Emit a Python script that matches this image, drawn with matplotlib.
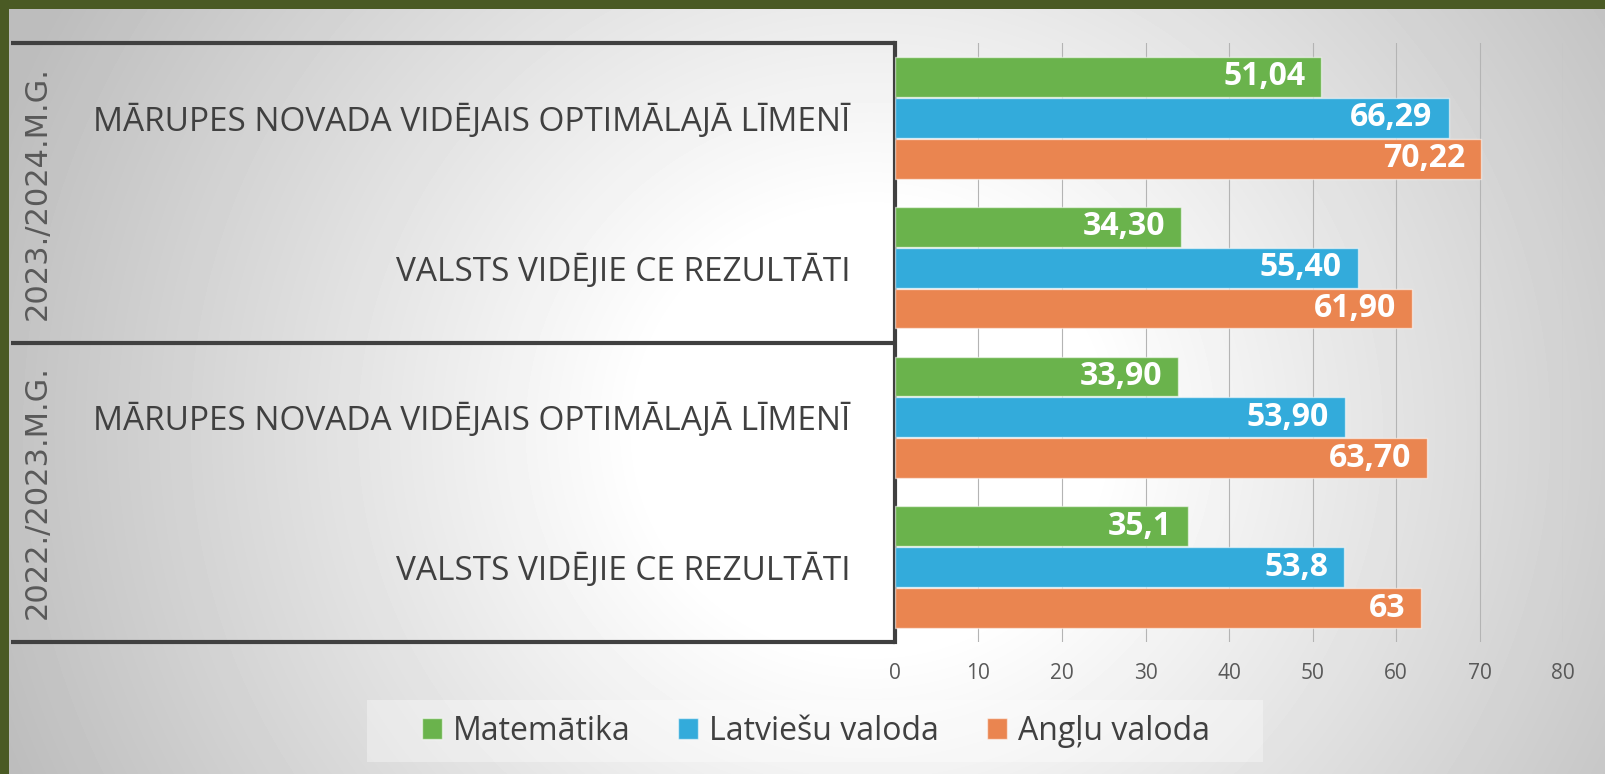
import numpy as np
import matplotlib
matplotlib.use("Agg")
import matplotlib.pyplot as plt
from matplotlib.patches import Rectangle

plt.rcParams['font.family'] = ['Open Sans', 'DejaVu Sans']

# ---------------- data ----------------
categories = [
    "MĀRUPES NOVADA VIDĒJAIS OPTIMĀLAJĀ LĪMENĪ",
    "VALSTS VIDĒJIE CE REZULTĀTI",
    "MĀRUPES NOVADA VIDĒJAIS OPTIMĀLAJĀ LĪMENĪ",
    "VALSTS VIDĒJIE CE REZULTĀTI",
]
years = ["2023./2024.M.G.", "2022./2023.M.G."]
series_names = ["Matemātika", "Latviešu valoda", "Angļu valoda"]
matematika = [51.04, 34.30, 33.90, 35.1]
latviesu = [66.29, 55.40, 53.90, 53.8]
anglu = [70.22, 61.90, 63.70, 63]
labels_matematika = ["51,04", "34,30", "33,90", "35,1"]
labels_latviesu = ["66,29", "55,40", "53,90", "53,8"]
labels_anglu = ["70,22", "61,90", "63,70", "63"]
x_ticks = [0, 10, 20, 30, 40, 50, 60, 70, 80]

colors = ["#6AB34C", "#33ABDB", "#EA8550"]

W, H = 1605, 774
fig = plt.figure(figsize=(W / 100, H / 100), dpi=100)

# ---------------- background ----------------
bg = fig.add_axes([0, 0, 1, 1], zorder=-10)
yy, xx = np.mgrid[0:H, 0:W]
d = np.sqrt(((xx - 870) / 820.0) ** 2 + ((yy - 430) / 780.0) ** 2)
val = 1.0 - 0.26 * np.clip((d - 0.28) / 0.85, 0, 1)
bg.imshow(val, cmap="gray", vmin=0, vmax=1, extent=[0, W, H, 0], aspect="auto",
          interpolation="bilinear")
bg.set_xlim(0, W)
bg.set_ylim(H, 0)
bg.axis("off")
bg.add_patch(Rectangle((0, 0), W, 9, facecolor="#4A5A24", edgecolor="none"))
bg.add_patch(Rectangle((0, 0), 9, H, facecolor="#4A5A24", edgecolor="none"))

# legend background
fig.patches.append(Rectangle((367 / W, 1 - 762 / H), 896 / W, 62 / H,
                             transform=fig.transFigure, facecolor="white",
                             alpha=0.35, edgecolor="none", zorder=-5))

# ---------------- main axes ----------------
ax = fig.add_axes([895 / W, 1 - 642 / H, 668 / W, 599 / H])
ax.patch.set_alpha(0)

y = np.arange(len(categories))
offsets = [-0.273, 0.0, 0.273]
bar_h = 0.266
all_vals = [matematika, latviesu, anglu]
all_labels = [labels_matematika, labels_latviesu, labels_anglu]
handles = []
for vals, labs, off, c, name in zip(all_vals, all_labels, offsets, colors, series_names):
    bars = ax.barh(y + off, vals, height=bar_h, color=c,
                   edgecolor=(1, 1, 1, 0.55), linewidth=1.0, zorder=3, label=name)
    handles.append(bars)
    for v, yi, lab in zip(vals, y + off, labs):
        ax.annotate(lab, xy=(v, yi), xytext=(-16, 0), textcoords="offset pixels",
                    ha="right", va="center", color="white", fontsize=23,
                    fontweight="bold", zorder=4)

ax.set_xlim(0, 80)
ax.set_ylim(3.5, -0.5)
ax.set_xticks(x_ticks)
ax.set_xticklabels([str(t) for t in x_ticks])
ax.tick_params(axis="x", length=0, pad=15, labelsize=15, labelcolor="#595959")
ax.set_yticks(y)
ax.set_yticklabels(categories)
ax.tick_params(axis="y", length=0, pad=32, labelsize=24, labelcolor="#404040")
ax.grid(axis="x", color="#B4B4B4", linewidth=0.8, zorder=0)
ax.set_axisbelow(True)
for s in ["top", "right", "bottom"]:
    ax.spines[s].set_visible(False)
ax.spines["left"].set_color("#404040")
ax.spines["left"].set_linewidth(3)

# category box lines
trans = ax.get_yaxis_transform()
x_left = (11 - 895) / 668
for yb in [-0.5, 1.5, 3.5]:
    ax.plot([x_left, 0], [yb, yb], transform=trans, color="#404040",
            linewidth=3, clip_on=False, solid_capstyle="butt", zorder=5)

# year labels
x_year = (37 - 895) / 668
for yr, yc in zip(years, [0.5, 2.5]):
    ax.text(x_year, yc, yr, transform=trans, rotation=90, ha="center", va="center",
            fontsize=22, color="#595959", family=["DejaVu Sans"])

# legend
fig.legend(handles, series_names, loc="center",
           bbox_to_anchor=(816 / W, 1 - 731 / H), ncol=3, frameon=False,
           fontsize=23, handlelength=0.62, handleheight=0.66,
           handletextpad=0.35, columnspacing=1.5, labelcolor="#404040")

fig.savefig("out.png", dpi=100)
